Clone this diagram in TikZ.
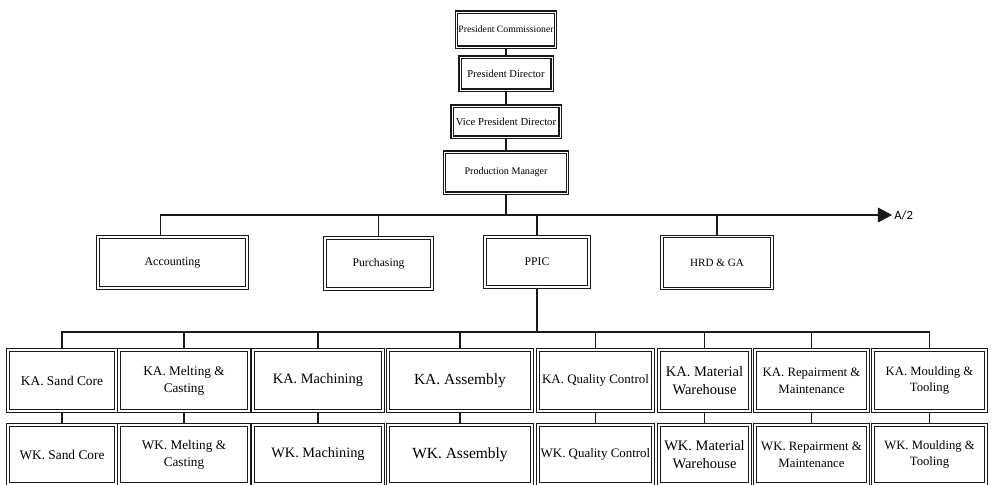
\documentclass[tikz,border=0pt]{standalone}
\usepackage{fontspec}
\setmainfont{Liberation Serif}
\newfontfamily\labelfont{Carlito}
\usetikzlibrary{arrows.meta}

\begin{document}
\begin{tikzpicture}[
  x=.025cm, y=-.025cm,
  wire/.style={black!90, line width=.75pt},
  head/.style={draw=black!90, line width=1pt, double, double distance=.35pt, inner sep=1pt, align=center},
  unit/.style={draw=black!90, line width=.85pt, double, double distance=.9pt, inner sep=1pt, align=center},
  fsz/.style={font=\fontsize{#1}{\dimexpr #1pt*13/10\relax}\selectfont},
  wh/.style 2 args={minimum width=#1*.025cm, minimum height=#2*.025cm}
]
\useasboundingbox (0,0) rectangle (992,485);

% board and management
\node[head, wh={99}{35}, fsz=6.9] (pcom) at (506,29.5) {President Commissioner};
\node[head, wh={92}{33}, fsz=7.5] (pdir) at (506,73.5) {President Director};
\node[head, wh={108}{31}, fsz=7.6] (vpdir) at (506,121.5) {Vice President Director};
\node[head, wh={123}{41}, fsz=7.2] (pman) at (506,172.5) {Production Manager};
\draw[wire] (pcom) -- (pdir);
\draw[wire] (pdir) -- (vpdir);
\draw[wire] (vpdir) -- (pman);

% departments
\node[unit, wh={149}{51}, fsz=8.5] (acct) at (172.5,262.5) {Accounting};
\node[unit, wh={107}{51}, fsz=8.3] (purch) at (378.5,263.5) {Purchasing};
\node[unit, wh={104}{50}, fsz=8.3] (ppic) at (537,262) {PPIC};
\node[unit, wh={110}{52}, fsz=7.9] (hrd) at (717,262.5) {HRD \& GA};

\coordinate (busA) at (506,215);
\coordinate (tipA) at (892,215);
\draw[wire] (pman) -- (busA);
\draw[wire, -{Triangle[length=10pt,width=10.5pt]}] ([xshift=-12*.025cm]acct.north) |- (tipA);
\foreach \n in {purch,ppic,hrd}
  \draw[wire] (\n.north) -- (\n.north |- busA);
\node[anchor=west, inner sep=1.5pt, font={\labelfont\fontsize{9}{11}\selectfont}] (atwo) at (tipA) {A/2};

% sections: KA above, WK below
\foreach \n/\x/\w/\s/\t in {
    sc/62/108/9.5/{Sand Core},
    mc/184/130/9.4/{Melting \&\\Casting},
    mach/318/130/10.2/{Machining},
    asm/460/144/11/{Assembly},
    qc/595.5/115/9.2/{Quality Control},
    mw/704.5/91/10.3/{Material\\Warehouse},
    rm/811.5/113/9.1/{Repairment \&\\Maintenance},
    mt/929.5/113/9/{Moulding \&\\Tooling}} {
  \node[unit, wh={\w}{61}, fsz=\s] (ka\n) at (\x,380.5) {KA. \t};
  \node[unit, wh={\w}{59}, fsz=\s] (wk\n) at (\x,454.5) {WK. \t};
  \draw[wire] (ka\n) -- (wk\n);
}

\coordinate (busB) at (537,332);
\draw[wire] (ppic) -- (busB);
\draw[wire] (kasc.north) |- (busB) -| (kamt.north);
\foreach \n in {mc,mach,asm,qc,mw,rm}
  \draw[wire] (ka\n.north) -- (ka\n.north |- busB);

\end{tikzpicture}
\end{document}
